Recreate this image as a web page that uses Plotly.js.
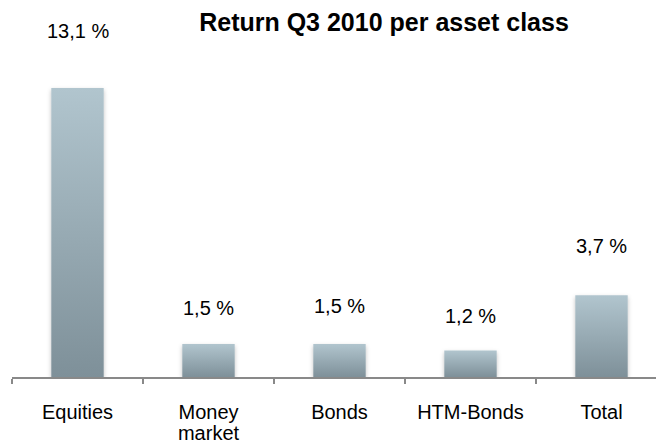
<!DOCTYPE html>
<html>
<head>
<meta charset="utf-8">
<script src="https://cdn.plot.ly/plotly-3.0.1.min.js"></script>
<style>
html,body{margin:0;padding:0;background:#fff;}
#chart{width:656px;height:447px;}
</style>
</head>
<body>
<div id="chart"></div>
<script>
// ---- data ----
var categories = ["Equities", "Money<br>market", "Bonds", "HTM-Bonds", "Total"];
var returns = [13.1, 1.5, 1.5, 1.2, 3.7];
var valueLabels = ["13,1 %", "1,5 %", "1,5 %", "1,2 %", "3,7 %"];
var labelShift = [57, 36, 38, 35, 49]; // px above bar top

var FONT = "Liberation Sans, Arial, sans-serif";

var trace = {
  type: "bar",
  x: categories,
  y: returns,
  width: 0.4,
  marker: {color: "#9fb3bc", line: {width: 0}},
  hoverinfo: "none"
};

var annotations = categories.map(function (c, i) {
  return {
    x: c, y: returns[i], xref: "x", yref: "y",
    text: valueLabels[i], showarrow: false,
    yanchor: "middle", xanchor: "center",
    yshift: labelShift[i],
    font: {family: FONT, size: 20, color: "#000"}
  };
});

var layout = {
  width: 656, height: 447,
  margin: {l: 12, r: 0, t: 46, b: 70, pad: 0},
  paper_bgcolor: "#fff", plot_bgcolor: "#fff",
  showlegend: false,
  title: {
    text: "<b>Return Q3 2010 per asset class</b>",
    x: 384 / 656, xanchor: "center",
    y: 1 - 22 / 447, yanchor: "middle", yref: "container",
    font: {family: FONT, size: 25, color: "#000"}
  },
  xaxis: {
    type: "category",
    range: [-0.5, -0.5 + 644 / 131],
    showline: true, linecolor: "#898989", linewidth: 1.5,
    ticks: "outside", ticklen: 5, tickcolor: "#898989", tickwidth: 1.5,
    tickson: "boundaries",
    showgrid: false, zeroline: false,
    ticklabelstandoff: 16,
    tickfont: {family: FONT, size: 20, color: "#000"}
  },
  yaxis: {
    range: [0, 15],
    visible: false, showgrid: false, zeroline: false
  },
  annotations: annotations
};

Plotly.newPlot("chart", [trace], layout, {staticPlot: true, displayModeBar: false}).then(function (gd) {
  var svg = gd.querySelector("svg.main-svg");
  var ns = "http://www.w3.org/2000/svg";
  var defs = svg.querySelector("defs") || svg.insertBefore(document.createElementNS(ns, "defs"), svg.firstChild);
  defs.insertAdjacentHTML("beforeend",
    '<linearGradient xmlns="http://www.w3.org/2000/svg" id="barGrad" x1="0" y1="0" x2="0" y2="1">' +
    '<stop offset="0" stop-color="#b1c5ce"/><stop offset="1" stop-color="#7e9099"/></linearGradient>' +
    '<filter xmlns="http://www.w3.org/2000/svg" id="barShadow" x="-30%" y="-10%" width="160%" height="125%">' +
    '<feDropShadow dx="0" dy="2" stdDeviation="2.2" flood-color="#000" flood-opacity="0.25"/></filter>');
  gd.querySelectorAll(".bars .point path").forEach(function (p) {
    p.style.fill = "url(#barGrad)";
    p.setAttribute("filter", "url(#barShadow)");
  });
  // tighter line spacing for two-line tick labels
  gd.querySelectorAll(".xtick text tspan.line").forEach(function (t, i) {
    var dy = t.getAttribute("dy");
    if (dy && parseFloat(dy) > 0) t.setAttribute("dy", "1.05em");
  });
});
</script>
</body>
</html>
